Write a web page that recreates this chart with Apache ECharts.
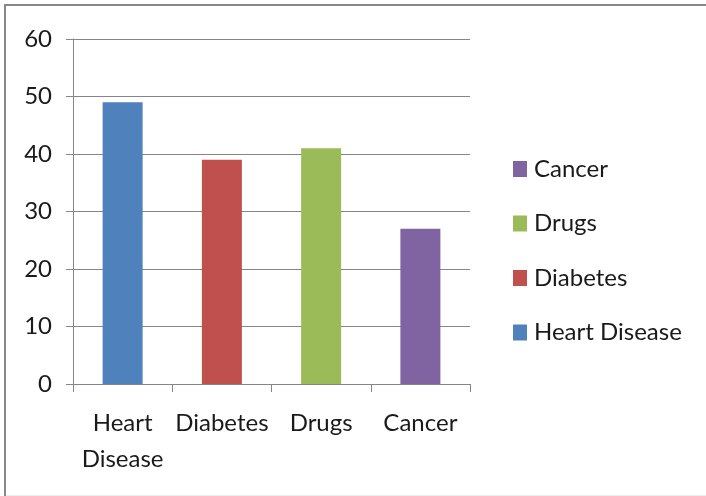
<!DOCTYPE html>
<html>
<head>
<meta charset="utf-8">
<script src="https://cdn.jsdelivr.net/npm/echarts@6/dist/echarts.min.js"></script>
<style>
  html, body { margin: 0; padding: 0; background: #fff; }
  #chart { width: 706px; height: 496px; }
</style>
</head>
<body>
<div id="chart"></div>
<script>
// categories and values
const categories = ['Heart\nDisease', 'Diabetes', 'Drugs', 'Cancer']
const seriesNames = ['Heart Disease', 'Diabetes', 'Drugs', 'Cancer']
const values = [49, 39, 41, 27]
const colors = ['#4F81BD', '#C0504D', '#9BBB59', '#8064A2']
const yTicks = [0, 10, 20, 30, 40, 50, 60]

const FONT = 'Lato'
const chart = echarts.init(document.getElementById('chart'))

// one series per category so each shows in the legend; stacked so bars stay centred
const series = seriesNames.map((name, i) => ({
  name,
  type: 'bar',
  stack: 'all',
  barWidth: 40,
  data: categories.map((_, j) => (j === i ? values[i] : null)),
  itemStyle: { color: colors[i] }
}))

const option = {
  animation: false,
  backgroundColor: '#fff',
  textStyle: { fontFamily: FONT },
  grid: {
    left: 73,
    right: 236,
    top: 39,
    bottom: 112,
    containLabel: false
  },
  legend: {
    orient: 'vertical',
    left: 513,
    top: 157,
    padding: 0,
    itemWidth: 14,
    itemHeight: 16,
    itemGap: 30.5,
    icon: 'rect',
    data: seriesNames.slice().reverse(),
    textStyle: {
      fontSize: 24,
      lineHeight: 24,
      color: '#1a1a1a',
      fontFamily: FONT,
      padding: [0, 0, 0, 2]
    }
  },
  xAxis: {
    type: 'category',
    data: categories,
    axisLine: { lineStyle: { color: '#868686', width: 1 } },
    axisTick: { show: true, length: 8, lineStyle: { color: '#868686' } },
    axisLabel: {
      color: '#1a1a1a',
      fontSize: 24,
      lineHeight: 36,
      margin: 21,
      interval: 0
    }
  },
  yAxis: {
    type: 'value',
    min: 0,
    max: yTicks[yTicks.length - 1],
    interval: 10,
    axisLine: { show: true, lineStyle: { color: '#868686', width: 1 } },
    axisTick: { show: true, length: 7, lineStyle: { color: '#868686' } },
    axisLabel: { color: '#1a1a1a', fontSize: 24, margin: 21 },
    splitLine: { lineStyle: { color: '#868686', width: 1 } }
  },
  graphic: [
    {
      type: 'polyline',
      shape: { points: [[5, 496], [5, 5], [706, 5]] },
      style: { stroke: '#888', lineWidth: 2, fill: null }
    },
    {
      type: 'line',
      shape: { x1: 6, y1: 495.5, x2: 706, y2: 495.5 },
      style: { stroke: '#eee', lineWidth: 1 }
    }
  ],
  series
}

chart.setOption(option)
</script>
</body>
</html>
